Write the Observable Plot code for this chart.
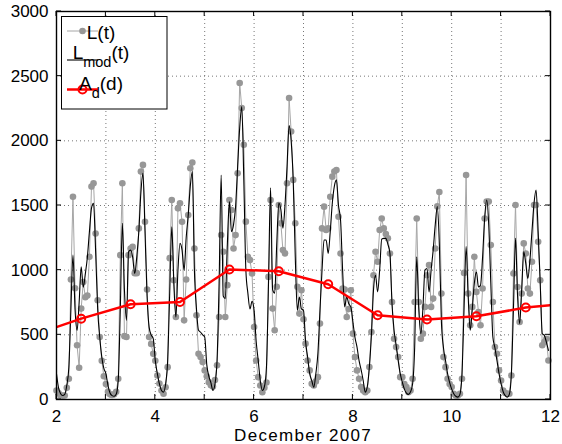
<!DOCTYPE html>
<html><head><meta charset="utf-8">
<script src="https://cdn.jsdelivr.net/npm/d3@7"></script>
<script src="https://cdn.jsdelivr.net/npm/@observablehq/plot@0.6"></script>
<style>
body{margin:0;background:#fff;}
#chart svg{font-family:"Liberation Sans",Arial,Helvetica,sans-serif;}
</style>
</head><body><div id="chart"></div>
<script>
// December 2007, day numbers; hourly samples per day (h = 0..23)
const days = [2,3,4,5,6,7,8,9,10,11];

// L(t): measured values, hourly, one array per day
const L2  = [70, 50, 31, 30, 31, 90, 160, 928, 1568, 860, 419, 245, 703, 908, 791, 804, 1103, 1646, 1672, 1284, 767, 483, 300, 180];
const L3  = [120, 60, 40, 35, 40, 60, 160, 1116, 1672, 490, 483, 1116, 1168, 1180, 977, 977, 1323, 1762, 1814, 1374, 850, 483, 430, 353];
const L4  = [300, 186, 124, 70, 45, 95, 250, 1093, 1543, 922, 638, 1478, 1517, 1374, 612, 928, 1426, 1788, 1832, 1168, 651, 354, 328, 289];
const L5  = [225, 180, 134, 110, 100, 150, 264, 638, 1271, 1142, 638, 884, 1543, 1465, 1168, 1271, 1749, 2447, 2253, 1969, 1375, 1103, 1078, 974];
const L6  = [560, 302, 173, 108, 56, 90, 132, 948, 1543, 703, 535, 871, 1504, 1362, 1155, 1130, 1672, 2331, 2072, 1698, 1362, 871, 664, 845];
const L7  = [620, 432, 302, 225, 122, 109, 140, 173, 587, 1323, 1491, 1310, 1323, 1568, 1723, 1762, 1775, 1413, 1129, 858, 850, 638, 700, 845];
const L8  = [509, 328, 225, 161, 96, 70, 57, 70, 251, 522, 961, 1142, 1065, 1310, 1400, 1323, 1280, 1246, 1129, 754, 470, 405, 328, 173];
const L9  = [173, 120, 96, 57, 70, 161, 754, 1400, 754, 470, 509, 716, 961, 1039, 716, 780, 1168, 1493, 1604, 819, 328, 250, 161, 120];
const L10 = [96, 44, 31, 30, 44, 161, 979, 1736, 819, 574, 716, 1103, 832, 677, 574, 858, 1400, 1530, 1530, 1194, 754, 405, 354, 225];
const L11 = [147, 70, 50, 44, 44, 186, 974, 1504, 870, 599, 819, 1207, 1129, 858, 819, 1065, 1504, 1504, 1220, 922, 419, 444, 470, 302];

// L_mod(t): model values, hourly, one array per day
const M2  = [199, 90, 45, 31, 40, 110, 250, 700, 1116, 700, 535, 750, 1026, 868, 971, 1100, 1300, 1480, 1517, 1150, 700, 483, 330, 240];
const M3  = [200, 110, 50, 30, 25, 40, 150, 700, 1362, 850, 612, 1142, 1155, 1100, 974, 1103, 1300, 1600, 1749, 1300, 800, 560, 500, 470];
const M4  = [300, 200, 120, 70, 57, 120, 300, 822, 1336, 900, 638, 1000, 1207, 1155, 1000, 1250, 1426, 1650, 1762, 1000, 700, 535, 520, 500];
const M5  = [483, 270, 180, 130, 70, 120, 302, 900, 1736, 800, 780, 1200, 1530, 1297, 1350, 1490, 1800, 2100, 2266, 1700, 1000, 819, 700, 760];
const M6  = [690, 450, 302, 147, 70, 100, 250, 900, 1636, 850, 822, 1200, 1519, 1468, 1325, 1500, 1800, 2119, 2000, 1698, 1103, 690, 793, 700];
const M7  = [690, 450, 328, 200, 147, 95, 200, 357, 690, 1000, 1233, 1233, 1129, 1300, 1519, 1650, 1698, 1500, 1388, 1000, 716, 793, 740, 716];
const M8  = [600, 480, 405, 300, 230, 147, 57, 100, 251, 500, 845, 961, 832, 1000, 1240, 1246, 1246, 1200, 1129, 741, 535, 420, 302, 200];
const M9  = [134, 80, 50, 40, 60, 120, 400, 1103, 700, 509, 700, 1000, 1013, 832, 1000, 1155, 1350, 1491, 1200, 600, 400, 300, 200, 130];
const M10 = [80, 45, 25, 18, 40, 200, 700, 1182, 800, 535, 700, 900, 987, 870, 883, 1100, 1400, 1543, 1350, 900, 483, 400, 300, 200];
const M11 = [120, 60, 30, 18, 40, 199, 700, 1246, 800, 587, 850, 1142, 1050, 935, 1078, 1300, 1517, 1620, 1300, 900, 509, 496, 444, 380];

// A_d(d): daily averages at mid-day
const aDays = [1.5, 2.5, 3.5, 4.5, 5.5, 6.5, 7.5, 8.5, 9.5, 10.5, 11.5, 12.5];
const aVals = [495, 625, 736, 754, 1005, 992, 891, 651, 618, 643, 711, 747];

// axis ticks
const xTicks = [2,3,4,5,6,7,8,9,10,11,12];
const xLabels = [2,4,6,8,10,12];
const yTicks = [0,500,1000,1500,2000,2500,3000];

const toRows = (arrs) => arrs.flatMap((arr, i) => arr.map((v, h) => ({t: days[i] + h / 24, v})));
const Ldata = toRows([L2,L3,L4,L5,L6,L7,L8,L9,L10,L11]);
const Mdata = toRows([M2,M3,M4,M5,M6,M7,M8,M9,M10,M11]);
const Adata = aDays.map((d, i) => ({t: d, v: aVals[i]}));

const W = 562, H = 444, mL = 56, mR = 12, mT = 11, mB = 45;

const chart = Plot.plot({
  width: W, height: H,
  marginLeft: mL, marginRight: mR, marginTop: mT, marginBottom: mB,
  x: {domain: [2, 12]},
  y: {domain: [0, 3000]},
  style: {fontFamily: "'Liberation Sans', Arial, sans-serif", fontSize: "17px", color: "#000", background: "#fff", overflow: "visible"},
  marks: [
    Plot.gridX(xTicks, {stroke: "#555", strokeOpacity: 0.8, strokeDasharray: "1,3"}),
    Plot.gridY(yTicks, {stroke: "#555", strokeOpacity: 0.8, strokeDasharray: "1,3"}),
    Plot.line(Ldata, {x: "t", y: "v", stroke: "#a6a6a6", strokeWidth: 1}),
    Plot.dot(Ldata, {x: "t", y: "v", r: 3.3, fill: "#979797", stroke: "none"}),
    Plot.line(Mdata, {x: "t", y: "v", stroke: "#000", strokeWidth: 1.1, curve: "monotone-x"}),
    Plot.line(Adata, {x: "t", y: "v", stroke: "#ff0000", strokeWidth: 2.5, clip: true}),
    Plot.dot(Adata, {x: "t", y: "v", r: 4, stroke: "#ff0000", strokeWidth: 2, fill: "none", clip: true}),
    Plot.frame({stroke: "#000", strokeWidth: 1.4}),
    Plot.axisX(xLabels, {anchor: "bottom", tickSize: 0, tickPadding: 10, fontSize: 17, label: null, tickFormat: "d"}),
    Plot.axisY(yTicks, {anchor: "left", tickSize: 0, tickPadding: 8, fontSize: 17, label: null, tickFormat: "d"})
  ]
});

document.getElementById("chart").appendChild(chart);

// inward tick marks, drawn through the plot's own scales
const sx = chart.scale("x"), sy = chart.scale("y");
const svg = d3.select(chart);
const tk = svg.append("g").attr("stroke", "#000").attr("stroke-width", 1);
const x0 = mL, x1 = W - mR, y0 = H - mB, y1 = mT;
xTicks.forEach(t => {
  const x = sx.apply(t);
  tk.append("line").attr("x1", x).attr("x2", x).attr("y1", y0).attr("y2", y0 - 5);
  tk.append("line").attr("x1", x).attr("x2", x).attr("y1", y1).attr("y2", y1 + 5);
});
yTicks.forEach(t => {
  const y = sy.apply(t);
  tk.append("line").attr("x1", x0).attr("x2", x0 + 5).attr("y1", y).attr("y2", y);
  tk.append("line").attr("x1", x1).attr("x2", x1 - 5).attr("y1", y).attr("y2", y);
});

// x label
svg.append("text").attr("x", (x0 + x1) / 2).attr("y", 441)
  .attr("text-anchor", "middle").attr("font-size", 17).attr("letter-spacing", 1.3)
  .attr("fill", "#000").text("December 2007");

// legend
const lg = svg.append("g");
lg.append("rect").attr("x", 61.5).attr("y", 16.5).attr("width", 105.5).attr("height", 92.5)
  .attr("fill", "#fff").attr("stroke", "#000").attr("stroke-width", 1);
// L(t)
lg.append("line").attr("x1", 67).attr("x2", 98).attr("y1", 31).attr("y2", 31).attr("stroke", "#a6a6a6").attr("stroke-width", 1);
lg.append("circle").attr("cx", 82.5).attr("cy", 31).attr("r", 3.3).attr("fill", "#979797");
lg.append("text").attr("x", 101).attr("y", 39).attr("font-size", 19).attr("fill", "#000").text("L(t)");
// L_mod(t)
lg.append("line").attr("x1", 67).attr("x2", 98).attr("y1", 60).attr("y2", 60).attr("stroke", "#000").attr("stroke-width", 1.1);
const t2 = lg.append("text").attr("x", 101).attr("y", 59).attr("font-size", 19).attr("fill", "#000");
t2.append("tspan").text("L");
t2.append("tspan").attr("font-size", 14.5).attr("dy", 7.5).text("mod");
t2.append("tspan").attr("dy", -7.5).text("(t)");
// A_d(d)
lg.append("line").attr("x1", 67).attr("x2", 98).attr("y1", 89.5).attr("y2", 89.5).attr("stroke", "#ff0000").attr("stroke-width", 2.5);
lg.append("circle").attr("cx", 82.5).attr("cy", 89.5).attr("r", 4).attr("fill", "none").attr("stroke", "#ff0000").attr("stroke-width", 2);
const t3 = lg.append("text").attr("x", 101).attr("y", 90).attr("font-size", 19).attr("fill", "#000");
t3.append("tspan").text("A");
t3.append("tspan").attr("font-size", 14.5).attr("dy", 8).text("d");
t3.append("tspan").attr("dy", -8).text("(d)");
</script>
</body></html>
